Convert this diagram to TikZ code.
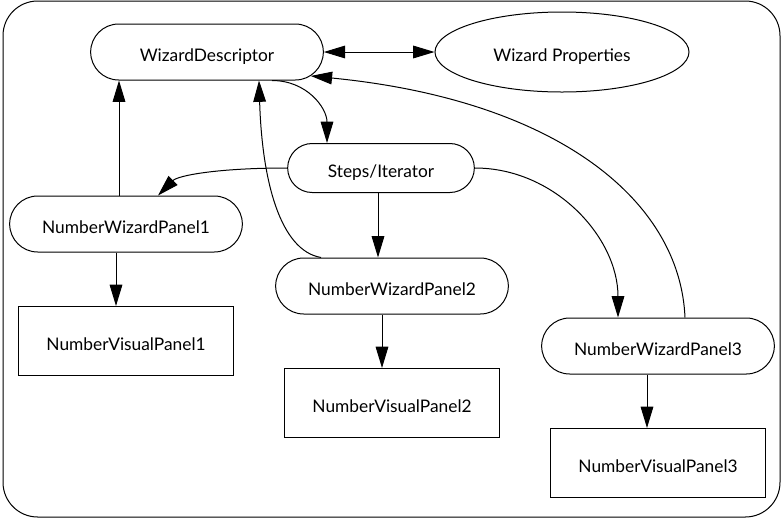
\documentclass[tikz,border=0pt]{standalone}
\usepackage{fontspec}
\setmainfont{Lato}
\usetikzlibrary{arrows.meta, shapes.geometric, shapes.misc}

\begin{document}
\begin{tikzpicture}[
  x=0.75pt, y=-0.75pt,
  line width=0.75pt,
  font=\fontsize{13}{15}\selectfont,
  pill/.style={draw, rounded rectangle, minimum width=178.5pt, minimum height=42pt, inner sep=2pt, text height=14pt, text depth=0pt},
  panel/.style={draw, rectangle, minimum width=161.25pt, minimum height=51.75pt, inner sep=2pt, text height=14pt, text depth=0pt},
  prop/.style={draw, ellipse, minimum width=190.5pt, minimum height=60pt, inner sep=0pt, text height=14pt, text depth=0pt},
  frame/.style={draw, rounded corners=26pt, minimum width=582.75pt, minimum height=387pt},
  arr/.style={-{Triangle[length=16pt, width=9.5pt]}},
  darr/.style={{Triangle[length=16pt, width=9.5pt]}-{Triangle[length=16pt, width=9.5pt]}},
]
\useasboundingbox (0,0) rectangle (783,519);
\node[frame] (box) at (391.5,259) {};

% ---- wizard descriptor and properties
\node[pill] (wd) at (207,52) {WizardDescriptor};
\node[prop] (props) at (562,52) {Wizard Properties};
\node[pill, minimum width=144pt, minimum height=36.75pt] (steps) at (381,168) {Steps/Iterator};

% ---- panels
\node[pill] (wp1) at (126,224) {NumberWizardPanel1};
\node[panel] (vp1) at (126,341) {NumberVisualPanel1};
\node[pill] (wp2) at (392,286) {NumberWizardPanel2};
\node[panel] (vp2) at (392,403) {NumberVisualPanel2};
\node[pill] (wp3) at (658,346) {NumberWizardPanel3};
\node[panel] (vp3) at (658,463) {NumberVisualPanel3};

% ---- descriptor links
\draw[darr] (wd.east) -- (props.west);
\draw[arr] ([xshift=48.75pt]wd.south) .. controls +(35,0) and +(0,-35) .. ([xshift=-40.5pt]steps.north);
\draw[arr] ([xshift=-5.25pt]wp1.north) -- ([xshift=-5.25pt]wp1.north |- wd.south);
\draw[arr] ([xshift=-53.25pt]wp2.north) .. controls +(-41,-7) and +(3,100) .. ([xshift=39pt]wd.south);
\draw[arr] ([xshift=20.25pt]wp3.north) .. controls +(-5,-118) and +(245,24) .. (wd.-13);

% ---- iterator steps
\draw[arr] (steps.west) .. controls +(-70,0) and +(20,-20) .. ([xshift=24pt]wp1.north);
\draw[arr] ([xshift=-2.25pt]steps.south) -- ([xshift=-2.25pt]steps.south |- wp2.north);
\draw[arr] (steps.east) .. controls +(80,0) and +(0,-80) .. ([xshift=-30pt]wp3.north);

% ---- visual panels
\draw[arr] ([xshift=-7.5pt]wp1.south) -- ([xshift=-7.5pt]wp1.south |- vp1.north);
\draw[arr] ([xshift=-7.5pt]wp2.south) -- ([xshift=-7.5pt]wp2.south |- vp2.north);
\draw[arr] ([xshift=-8.25pt]wp3.south) -- ([xshift=-8.25pt]wp3.south |- vp3.north);
\end{tikzpicture}
\end{document}
